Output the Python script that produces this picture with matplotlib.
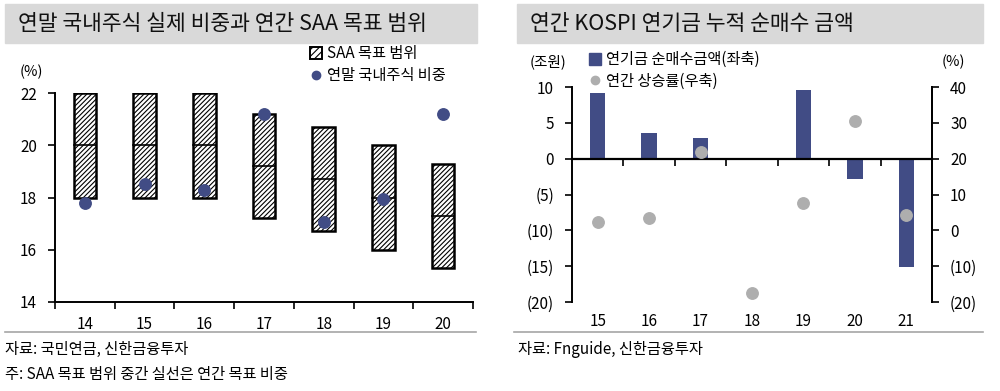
import matplotlib
matplotlib.use("Agg")
import matplotlib.pyplot as plt
from matplotlib.patches import Rectangle, Patch
from matplotlib.lines import Line2D
import numpy as np

plt.rcParams['font.family'] = ['Noto Sans CJK KR', 'DejaVu Sans']
plt.rcParams['hatch.linewidth'] = 0.8

# left chart data
years_l = ['14', '15', '16', '17', '18', '19', '20']
saa_low = [18.0, 18.0, 18.0, 17.2, 16.7, 16.0, 15.3]
saa_high = [22.0, 22.0, 22.0, 21.2, 20.7, 20.0, 19.3]
saa_mid = [20.0, 20.0, 20.0, 19.2, 18.7, 18.0, 17.3]
actual = [17.8, 18.5, 18.3, 21.2, 17.05, 17.95, 21.2]

# right chart data
years_r = ['15', '16', '17', '18', '19', '20', '21']
net_buy = [9.2, 3.6, 2.9, -0.25, 9.6, -2.9, -15.1]
kospi_ret = [2.4, 3.4, 21.9, -17.4, 7.5, 30.6, 4.4]

navy = '#414C85'
gray = '#AEAEAE'
W, H = 1000, 391

fig = plt.figure(figsize=(10, 3.91), dpi=100)


def px(x0, y0, x1, y1):
    return [x0 / W, 1 - y1 / H, (x1 - x0) / W, (y1 - y0) / H]


# title bars
for x0, x1, title in [(5, 477, '연말 국내주식 실제 비중과 연간 SAA 목표 범위'),
                      (517, 983, '연간 KOSPI 연기금 누적 순매수 금액')]:
    fig.patches.append(Rectangle((x0 / W, 1 - 43 / H), (x1 - x0) / W, 39 / H,
                                 transform=fig.transFigure, color='#D9D9D9', zorder=0))
    fig.text((x0 + 13) / W, 1 - 24 / H, title, fontsize=15.5, fontweight='medium',
             va='center', ha='left', color='#111111')

# ---- left chart
ax = fig.add_axes(px(55, 93, 473, 302))
xs = np.arange(len(years_l))
bw = 0.38
for i in range(len(years_l)):
    ax.add_patch(Rectangle((xs[i] - bw / 2, saa_low[i]), bw, saa_high[i] - saa_low[i],
                           facecolor='white', edgecolor='black', hatch='///////',
                           linewidth=1.8, zorder=2))
    ax.plot([xs[i] - bw / 2, xs[i] + bw / 2], [saa_mid[i], saa_mid[i]],
            color='black', linewidth=1.2, zorder=3)
ax.scatter(xs, actual, s=68, color=navy, zorder=4)
ax.set_xlim(-0.5, 6.5)
ax.set_ylim(14, 22)
ax.set_yticks([14, 16, 18, 20, 22])
ax.set_xticks(xs)
ax.set_xticklabels(years_l)
ax.set_xticks(np.arange(-0.5, 7, 1), minor=True)
ax.tick_params(axis='x', which='major', length=0, pad=10, labelsize=11)
ax.tick_params(axis='x', which='minor', length=5, width=1.2, direction='out')
ax.tick_params(axis='y', length=5, width=1.2, pad=8, labelsize=11)
for s in ['top', 'right']:
    ax.spines[s].set_visible(False)
for s in ['left', 'bottom']:
    ax.spines[s].set_linewidth(1.4)
fig.text(20 / W, 1 - 72 / H, '(%)', fontsize=10.5, va='center')

leg_handles = [Patch(facecolor='white', edgecolor='black', hatch='/////', linewidth=1.4),
               Line2D([], [], marker='o', linestyle='', color=navy, markersize=6)]
fig.legend(leg_handles, ['SAA 목표 범위', '연말 국내주식 비중'],
           loc='upper left', bbox_to_anchor=(310 / W, 1 - 45 / H), frameon=False,
           fontsize=11, handlelength=0.8, handleheight=0.8, handletextpad=0.3,
           labelspacing=0.35, borderaxespad=0, borderpad=0)

# ---- right chart
ax2 = fig.add_axes(px(572, 87, 932, 302))
xr = np.arange(len(years_r))
ax2.bar(xr, net_buy, width=0.3, color=navy, zorder=2)
ax2.set_xlim(-0.5, 6.5)
ax2.set_ylim(-20, 10)
ax2.set_yticks([-20, -15, -10, -5, 0, 5, 10])
ax2.set_yticklabels(['(20)', '(15)', '(10)', '(5)', '0', '5', '10'])
ax2.spines['bottom'].set_position(('data', 0))
ax2.spines['bottom'].set_linewidth(1.6)
ax2.spines['left'].set_linewidth(1.4)
ax2.spines['right'].set_linewidth(1.4)
ax2.spines['top'].set_visible(False)
ax2.set_xticks(xr)
ax2.set_xticklabels([])
ax2.set_xticks(np.arange(0.5, 6.5, 1), minor=True)
ax2.tick_params(axis='x', which='major', length=0)
ax2.tick_params(axis='x', which='minor', length=5, width=1.2, direction='out')
ax2.tick_params(axis='y', length=5, width=1.2, pad=8, labelsize=11)
for i, lab in enumerate(years_r):
    ax2.text(xr[i], -0.093, lab, transform=ax2.get_xaxis_transform(),
             ha='center', va='center', fontsize=11)

ax3 = ax2.twinx()
ax3.scatter(xr, kospi_ret, s=68, color=gray, zorder=4)
ax3.set_ylim(-20, 40)
ax3.set_yticks([-20, -10, 0, 10, 20, 30, 40])
ax3.set_yticklabels(['(20)', '(10)', '0', '10', '20', '30', '40'])
for s in ['top', 'bottom', 'left']:
    ax3.spines[s].set_visible(False)
ax3.spines['right'].set_linewidth(1.4)
ax3.tick_params(axis='y', length=5, width=1.2, pad=8, labelsize=11)

fig.text(530 / W, 1 - 62 / H, '(조원)', fontsize=10.5, va='center')
fig.text(942 / W, 1 - 62 / H, '(%)', fontsize=10.5, va='center')

leg2_handles = [Patch(facecolor=navy, edgecolor=navy),
                Line2D([], [], marker='o', linestyle='', color=gray, markersize=6)]
fig.legend(leg2_handles, ['연기금 순매수금액(좌축)', '연간 상승률(우축)'],
           loc='upper left', bbox_to_anchor=(589 / W, 1 - 51 / H), frameon=False,
           fontsize=11, handlelength=0.8, handleheight=0.8, handletextpad=0.3,
           labelspacing=0.3, borderaxespad=0, borderpad=0)

# separators and footnotes
for x0, x1 in [(5, 476), (514, 983)]:
    fig.add_artist(Line2D([x0 / W, x1 / W], [1 - 332 / H, 1 - 332 / H],
                          transform=fig.transFigure, color='#A6A6A6', linewidth=1.2))
fig.text(5 / W, 1 - 349 / H, '자료: 국민연금, 신한금융투자', fontsize=11, va='center')
fig.text(5 / W, 1 - 374 / H, '주: SAA 목표 범위 중간 실선은 연간 목표 비중', fontsize=11, va='center')
fig.text(518 / W, 1 - 349 / H, '자료: Fnguide, 신한금융투자', fontsize=11, va='center')

fig.savefig('out.png', dpi=100)
